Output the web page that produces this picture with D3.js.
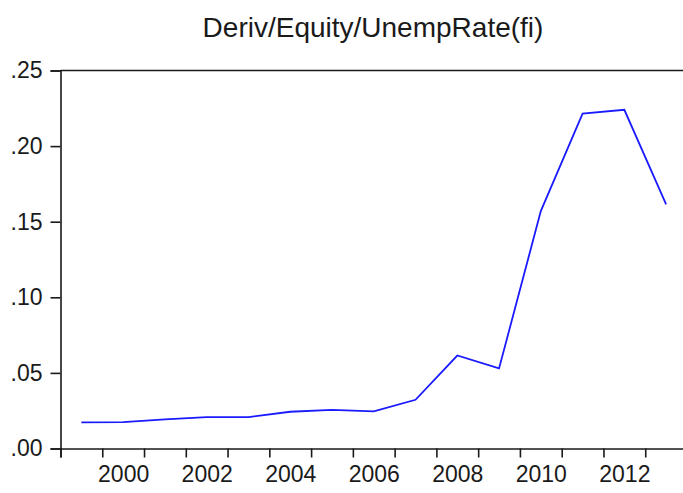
<!DOCTYPE html>
<html>
<head>
<meta charset="utf-8">
<script src="https://cdn.jsdelivr.net/npm/d3@7"></script>
<style>
  body { margin: 0; background: #fff; }
  text { font-family: Arial, "Liberation Sans", sans-serif; fill: #1a1a1a; }
</style>
</head>
<body>
<div id="chart"></div>
<script>
// Data
var years = [1999, 2000, 2001, 2002, 2003, 2004, 2005, 2006, 2007, 2008, 2009, 2010, 2011, 2012, 2013];
var values = [0.0173, 0.0175, 0.0192, 0.0207, 0.0208, 0.0243, 0.0255, 0.0246, 0.0322, 0.0615, 0.0530, 0.1570, 0.2215, 0.2240, 0.1615];
var yTicks = [0, 0.05, 0.10, 0.15, 0.20, 0.25];
var xLabels = [2000, 2002, 2004, 2006, 2008, 2010, 2012];
var title = "Deriv/Equity/UnempRate(fi)";

var width = 683, height = 493;

var svg = d3.select("#chart")
  .append("svg")
  .attr("width", width)
  .attr("height", height);

// scales - each year gets a band, points sit in the middle
var x = d3.scaleLinear()
  .domain([years[0] - 0.5, years[years.length - 1] + 0.5])
  .range([60.5, 687]);

var y = d3.scaleLinear()
  .domain([0, 0.25])
  .range([448.5, 70.5]);

// Title
svg.append("text")
  .attr("x", 373)
  .attr("y", 37)
  .attr("text-anchor", "middle")
  .style("font-size", "28px")
  .text(title);

// Top frame line
svg.append("line")
  .attr("x1", x.range()[0]).attr("x2", x.range()[1])
  .attr("y1", y(0.25)).attr("y2", y(0.25))
  .attr("stroke", "#1a1a1a")
  .attr("stroke-width", 1.6);

// Y axis
var yAxis = svg.append("g")
  .attr("transform", "translate(" + x.range()[0] + ",0)")
  .call(d3.axisLeft(y)
    .tickValues(yTicks)
    .tickSize(10)
    .tickPadding(8)
    .tickFormat(function(d) { return d3.format(".2f")(d).replace(/^0/, ""); }));

// X axis ticks at the year boundaries
var tickPos = years.map(function(d) { return d - 0.5; }).concat([years[years.length - 1] + 0.5]);
var xAxis = svg.append("g")
  .attr("transform", "translate(0," + y(0) + ")")
  .call(d3.axisBottom(x)
    .tickValues(tickPos)
    .tickSize(9)
    .tickFormat(""));

// X labels centred in their year
var xLab = svg.append("g")
  .attr("transform", "translate(0," + y(0) + ")")
  .call(d3.axisBottom(x)
    .tickValues(xLabels)
    .tickSize(0)
    .tickPadding(17)
    .tickFormat(d3.format("d")));
xLab.select(".domain").remove();

[yAxis, xAxis].forEach(function(g) {
  g.select(".domain").attr("stroke", "#1a1a1a").attr("stroke-width", 1.6);
  g.selectAll(".tick line").attr("stroke", "#1a1a1a").attr("stroke-width", 1.6);
});
svg.selectAll(".tick text")
  .style("font-size", "23px")
  .attr("fill", "#1a1a1a");

// The series line
var line = d3.line()
  .x(function(d, i) { return x(years[i]); })
  .y(function(d) { return y(d); });

svg.append("path")
  .datum(values)
  .attr("d", line)
  .attr("fill", "none")
  .attr("stroke", "#1a1aff")
  .attr("stroke-width", 1.8);
</script>
</body>
</html>
